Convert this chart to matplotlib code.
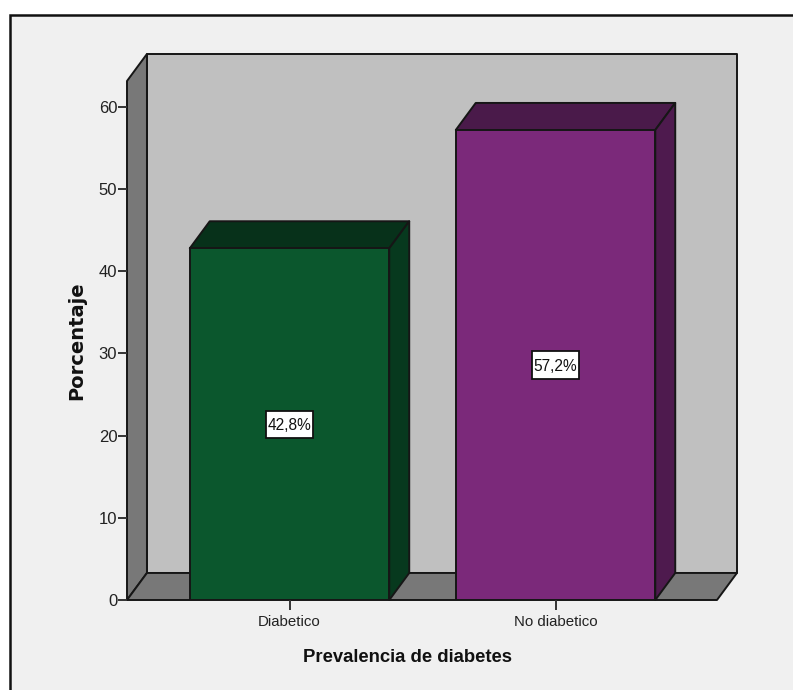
import matplotlib
matplotlib.use('Agg')
import matplotlib.pyplot as plt
from matplotlib.patches import Polygon, Rectangle

categories = ['Diabetico', 'No diabetico']
percentages = [42.8, 57.2]
value_labels = ['42,8%', '57,2%']
y_ticks = [0, 10, 20, 30, 40, 50, 60]

front_colors = ['#0b572d', '#7b297a']
top_colors = ['#07311a', '#4a1a4a']
side_colors = ['#07391e', '#4e1a4e']

WIDTH, HEIGHT = 793, 690
BAR_WIDTH = 0.75
DEPTH_X = 0.075
DEPTH_Y = 3.29
Y_MAX = 63.16
X_MIN, X_MAX = -0.611, 1.607
LABEL_W = 0.18
LABEL_H = 3.3
EDGE = '#161616'


def face(ax, points, color, z=2):
    ax.add_patch(Polygon(points, closed=True, facecolor=color, edgecolor=EDGE,
                         linewidth=1.4, joinstyle='round', clip_on=False, zorder=z))


plt.rcParams['font.family'] = ['Liberation Sans', 'DejaVu Sans']
fig = plt.figure(figsize=(WIDTH / 100, HEIGHT / 100), dpi=100, facecolor='white')

# outer chart border, only top and left fall inside the image
fig.add_artist(Rectangle((9.5 / WIDTH, -0.02), 1.02, 1.02 - 14.5 / HEIGHT,
                         transform=fig.transFigure, facecolor='#f0f0f0',
                         edgecolor='#111111', linewidth=1.8, zorder=-1))

ax = fig.add_axes([127 / WIDTH, (HEIGHT - 600) / HEIGHT, 590 / WIDTH, 519 / HEIGHT])
ax.set_xlim(X_MIN, X_MAX)
ax.set_ylim(0, Y_MAX)
ax.patch.set_alpha(0)
for spine in ax.spines.values():
    spine.set_visible(False)

# box: back wall, left wall, floor
face(ax, [(X_MIN + DEPTH_X, DEPTH_Y), (X_MAX + DEPTH_X, DEPTH_Y),
          (X_MAX + DEPTH_X, Y_MAX + DEPTH_Y), (X_MIN + DEPTH_X, Y_MAX + DEPTH_Y)], '#c0c0c0', 1)
face(ax, [(X_MIN, 0), (X_MIN + DEPTH_X, DEPTH_Y),
          (X_MIN + DEPTH_X, Y_MAX + DEPTH_Y), (X_MIN, Y_MAX)], '#787878', 1)
face(ax, [(X_MIN, 0), (X_MAX, 0), (X_MAX + DEPTH_X, DEPTH_Y), (X_MIN + DEPTH_X, DEPTH_Y)], '#787878', 1)

for i, value in enumerate(percentages):
    left = i - BAR_WIDTH / 2
    right = i + BAR_WIDTH / 2
    ax.bar(i, value, width=BAR_WIDTH, color=front_colors[i], edgecolor=EDGE, linewidth=1.4, zorder=4)
    face(ax, [(left, value), (right, value), (right + DEPTH_X, value + DEPTH_Y),
              (left + DEPTH_X, value + DEPTH_Y)], top_colors[i], 3)
    face(ax, [(right, 0), (right + DEPTH_X, DEPTH_Y), (right + DEPTH_X, value + DEPTH_Y),
              (right, value)], side_colors[i], 3)
    # white label box is taller than the text, so it is drawn on its own
    ax.add_patch(Rectangle((i - LABEL_W / 2, value / 2 - LABEL_H / 2), LABEL_W, LABEL_H, facecolor='white',
                           edgecolor='#111111', linewidth=1.3, zorder=5))
    ax.text(i, value / 2, value_labels[i], ha='center', va='center_baseline', fontsize=11.2,
            color='#111111', zorder=6)

ax.set_xticks(range(len(categories)))
ax.set_xticklabels(categories, fontsize=10.8, color='#222222')
ax.set_yticks(y_ticks)
ax.tick_params(axis='x', length=7.2, width=1.4, color='#333333', pad=3.5)
ax.tick_params(axis='y', length=6.5, width=1.4, color='#333333', pad=0.5, labelsize=12, labelcolor='#222222')

fig.text(407 / WIDTH, 1 - 657 / HEIGHT, 'Prevalencia de diabetes', ha='center', va='center',
         fontsize=13.3, fontweight='bold', color='#111111')
fig.text(77 / WIDTH, 1 - 341 / HEIGHT, 'Porcentaje', ha='center', va='center', rotation=90,
         fontsize=14, fontweight='bold', family='DejaVu Sans', color='#111111')

fig.savefig('out.png', dpi=100)
